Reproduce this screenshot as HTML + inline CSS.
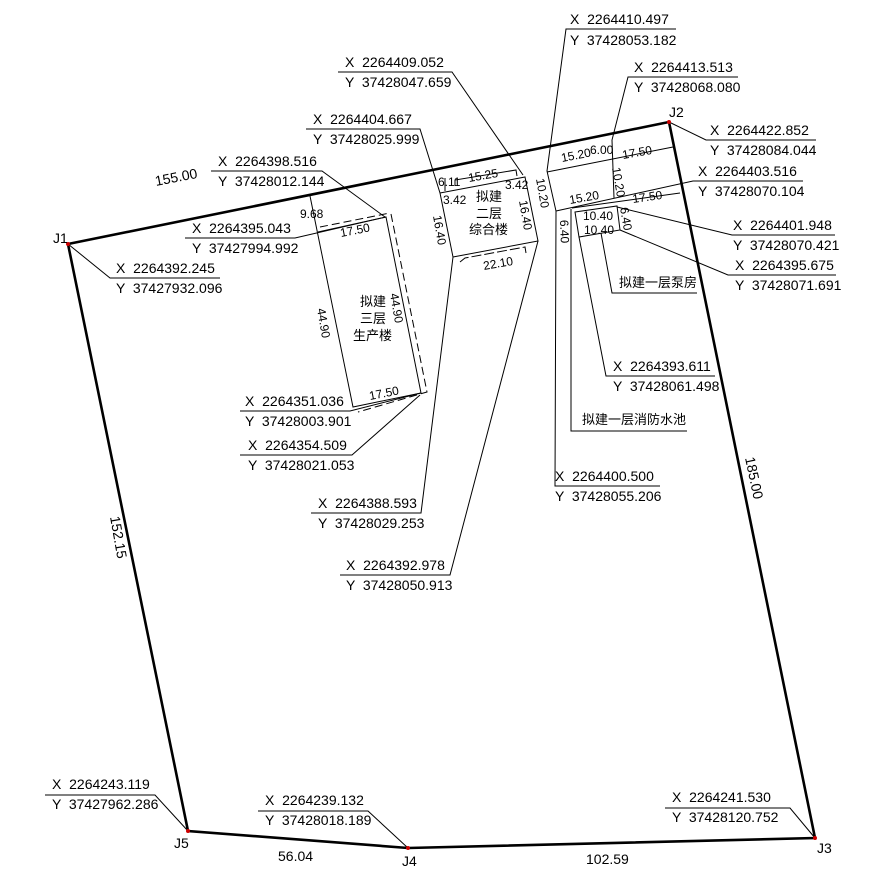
<!DOCTYPE html>
<html><head><meta charset="utf-8"><style>
html,body{margin:0;padding:0;background:#fff}
svg{display:block}
text{font-family:"Liberation Sans","Noto Sans CJK SC",sans-serif;font-size:14px;fill:#000;white-space:pre}
.s{font-size:12px}
.c{font-size:13px;font-family:"Noto Sans CJK SC","WenQuanYi Zen Hei",sans-serif}
</style></head><body>
<svg width="879" height="881" viewBox="0 0 879 881" xmlns="http://www.w3.org/2000/svg" xml:space="preserve">
<g fill="none" stroke="#000" stroke-width="1">
<polygon points="68,244 669,122 815,838 408,848 188,831" stroke-width="2.6"/>
<polyline points="68,244 110,278 220,278"/>
<polyline points="45,795 155,795 188,831"/>
<polyline points="258,811 368,811 408,848"/>
<polyline points="665,808 790,808 815,838"/>
<polyline points="669,122 706,140 816,140"/>
<polyline points="676,29 566,29 547,171 556,211 555,486 660,486"/>
<polyline points="738,77 628,77 612,140 614,198"/>
<polyline points="803,181 693,181 556,211"/>
<polyline points="617,207 732,235 835,235"/>
<polyline points="620,230 728,275 836,275"/>
<polyline points="579,237 606,376 715,376"/>
<polyline points="601,233 612,293 697,293"/>
<polyline points="571,209 571,431 687,431"/>
<polyline points="338,72 452,72 523,175"/>
<polyline points="306,129 420,129 440,193 453,257 421,513 311,513"/>
<polyline points="538,241 450,575 340,575"/>
<polyline points="211,171 322,171 385,217"/>
<polyline points="185,238 295,238 386,217"/>
<polyline points="240,411 350,411 421,393"/>
<polyline points="240,455 352,455 420,395"/>
<polyline points="310,196 353,407 421,393 386,217 318,232"/>
<polyline points="391,214 427,392 358,412" stroke-dasharray="8,4"/>
<line x1="320" y1="227" x2="390" y2="213" stroke-dasharray="8,4"/>
<polyline points="440,193 525,177 538,241 453,257"/>
<polyline points="455,186 455,180 516,170 517,176"/>
<polyline points="460,262 465,258 525,247 526,253" stroke-dasharray="10,3"/>
<line x1="445" y1="178" x2="445" y2="191"/>
<line x1="547" y1="172" x2="673" y2="147"/>
<line x1="572" y1="208" x2="680" y2="193"/>
<polygon points="575,212 617,206 620,230 579,237"/>
</g>
<g fill="#c00"><circle cx="669" cy="122" r="2"/><circle cx="68" cy="244" r="2"/><circle cx="188" cy="831" r="2"/><circle cx="408" cy="848" r="2"/><circle cx="815" cy="838" r="2"/></g>
<text x="53" y="243">J1</text><text x="669" y="117">J2</text><text x="817" y="853">J3</text><text x="402" y="866">J4</text><text x="174" y="848">J5</text>
<text x="116" y="273">X  2264392.245</text><text x="116" y="293">Y  37427932.096</text>
<text x="52" y="789">X  2264243.119</text><text x="52" y="809">Y  37427962.286</text>
<text x="265" y="805">X  2264239.132</text><text x="265" y="825">Y  37428018.189</text>
<text x="672" y="802">X  2264241.530</text><text x="672" y="822">Y  37428120.752</text>
<text x="710" y="135">X  2264422.852</text><text x="710" y="155">Y  37428084.044</text>
<text x="570" y="24">X  2264410.497</text><text x="570" y="45">Y  37428053.182</text>
<text x="634" y="72">X  2264413.513</text><text x="634" y="92">Y  37428068.080</text>
<text x="698" y="176">X  2264403.516</text><text x="698" y="196">Y  37428070.104</text>
<text x="733" y="230">X  2264401.948</text><text x="733" y="250">Y  37428070.421</text>
<text x="735" y="270">X  2264395.675</text><text x="735" y="290">Y  37428071.691</text>
<text x="613" y="371">X  2264393.611</text><text x="613" y="391">Y  37428061.498</text>
<text x="555" y="481">X  2264400.500</text><text x="555" y="501">Y  37428055.206</text>
<text x="345" y="67">X  2264409.052</text><text x="345" y="87">Y  37428047.659</text>
<text x="313" y="124">X  2264404.667</text><text x="313" y="144">Y  37428025.999</text>
<text x="218" y="166">X  2264398.516</text><text x="218" y="186">Y  37428012.144</text>
<text x="192" y="233">X  2264395.043</text><text x="192" y="253">Y  37427994.992</text>
<text x="245" y="406">X  2264351.036</text><text x="245" y="426">Y  37428003.901</text>
<text x="248" y="450">X  2264354.509</text><text x="248" y="470">Y  37428021.053</text>
<text x="318" y="508">X  2264388.593</text><text x="318" y="528">Y  37428029.253</text>
<text x="346" y="570">X  2264392.978</text><text x="346" y="590">Y  37428050.913</text>
<text transform="translate(156,186) rotate(-11)">155.00</text>
<text transform="translate(110,517) rotate(80)">152.15</text>
<text transform="translate(745,458) rotate(78)">185.00</text>
<text x="278" y="861">56.04</text>
<text x="586" y="864">102.59</text>
<text class="s" x="300" y="218">9.68</text>
<text class="s" transform="translate(341,237) rotate(-11)">17.50</text>
<text class="s" transform="translate(370,400) rotate(-11)">17.50</text>
<text class="s" transform="translate(317,309) rotate(80)">44.90</text>
<text class="s" transform="translate(390,294) rotate(80)">44.90</text>
<text class="c" x="360" y="306">拟建</text><text class="c" x="360" y="323">三层</text><text class="c" x="353" y="340">生产楼</text>
<text class="s" x="438" y="186">6.11</text>
<text class="s" transform="translate(469,182) rotate(-10)">15.25</text>
<text class="s" x="443" y="204">3.42</text>
<text class="s" x="505" y="189">3.42</text>
<text class="s" transform="translate(433,216) rotate(80)">16.40</text>
<text class="s" transform="translate(519,201) rotate(80)">16.40</text>
<text class="s" transform="translate(536,179) rotate(80)">10.20</text>
<text class="s" transform="translate(484,270) rotate(-10)">22.10</text>
<text class="c" x="476" y="201">拟建</text><text class="c" x="476" y="218">二层</text><text class="c" x="469" y="234">综合楼</text>
<text class="s" transform="translate(562,162) rotate(-11)">15.20</text>
<text class="s" x="590" y="154">6.00</text>
<text class="s" transform="translate(623,159) rotate(-10)">17.50</text>
<text class="s" transform="translate(612,168) rotate(80)">10.20</text>
<text class="s" transform="translate(570,204) rotate(-10)">15.20</text>
<text class="s" transform="translate(633,203) rotate(-8)">17.50</text>
<text class="s" x="583" y="220">10.40</text>
<text class="s" x="584" y="234">10.40</text>
<text class="s" transform="translate(620,208) rotate(80)">6.40</text>
<text class="s" transform="translate(560,220) rotate(88)">6.40</text>
<text class="c" x="619" y="287">拟建一层泵房</text>
<text class="c" x="582" y="424">拟建一层消防水池</text>
</svg>
</body></html>
